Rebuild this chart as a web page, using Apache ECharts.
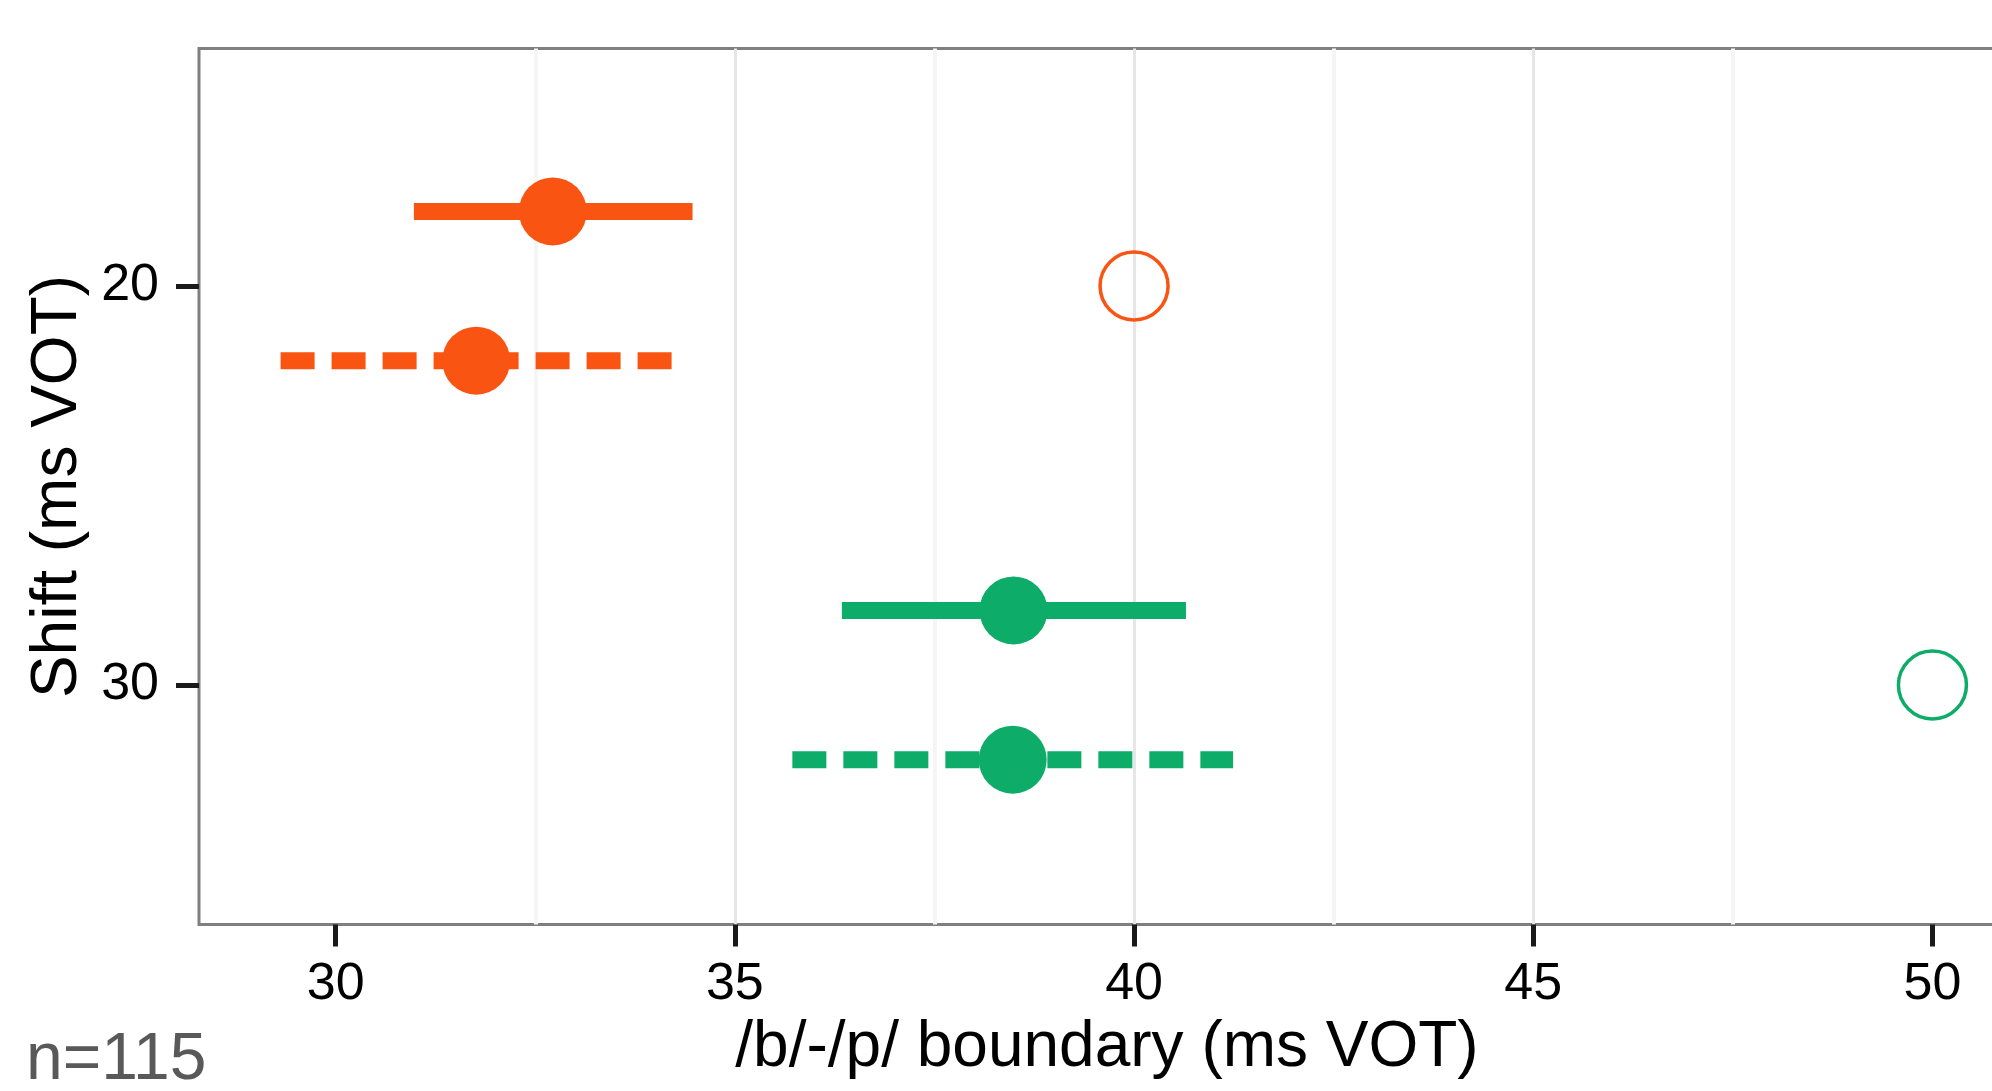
<!DOCTYPE html>
<html>
<head>
<meta charset="utf-8">
<title>/b/-/p/ boundary by shift</title>
<script src="https://cdn.jsdelivr.net/npm/echarts@6.0.0/dist/echarts.min.js"></script>
<style>
  html, body { margin: 0; padding: 0; background: #ffffff; }
  #chart { width: 1992px; height: 1091px; }
</style>
</head>
<body>
<div id="chart"></div>
<script>
// one entry per shift condition (20 ms, 30 ms)
const shifts = [20, 30]
const colors = ['#F95412', '#0DAC68']

// solid line group (drawn above the shift row)
const solidY = [18.13, 28.13]
const solidMean = [32.72, 38.49]
const solidLow = [30.98, 36.34]
const solidHigh = [34.47, 40.65]

// dashed line group (drawn below the shift row)
const dashedY = [21.87, 31.87]
const dashedMean = [31.76, 38.48]
const dashedLow = [29.31, 35.72]
const dashedHigh = [34.21, 41.24]

// open circles: the true boundary for each shift
const trueBoundary = [40, 50]

const xTicks = [30, 35, 40, 45, 50]
const yTicks = [20, 30]

const font = "'Liberation Sans', Arial, Helvetica, sans-serif"

const chart = echarts.init(document.getElementById('chart'))

const barSeries = (ys, lows, highs, dashed) => shifts.map((s, i) => ({
  type: 'line',
  silent: true,
  symbol: 'none',
  data: [[lows[i], ys[i]], [highs[i], ys[i]]],
  lineStyle: {
    color: colors[i],
    width: 17,
    cap: 'butt',
    type: dashed ? [34, 17] : 'solid'
  },
  z: 2
}))

const meanSeries = (ys, means) => ({
  type: 'scatter',
  silent: true,
  symbol: 'circle',
  symbolSize: 68,
  data: shifts.map((s, i) => ({
    value: [means[i], ys[i]],
    itemStyle: { color: colors[i], opacity: 1 }
  })),
  z: 3
})

const option = {
  animation: false,
  backgroundColor: '#ffffff',
  grid: {
    left: 199,
    top: 48.5,
    right: -23,
    bottom: 166.5,
    show: true,
    borderColor: '#7f7f7f',
    borderWidth: 3,
    backgroundColor: 'transparent',
    containLabel: false,
    outerBoundsMode: 'none'
  },
  xAxis: {
    type: 'value',
    min: 28.288,
    max: 51.034,
    minInterval: 5,
    maxInterval: 5,
    name: '/b/-/p/ boundary (ms VOT)',
    nameLocation: 'middle',
    nameGap: 92,
    nameTextStyle: { color: '#000', fontSize: 64, fontFamily: font },
    axisLine: { show: false },
    axisTick: {
      show: true,
      customValues: xTicks,
      length: 22,
      lineStyle: { color: '#1a1a1a', width: 5 }
    },
    axisLabel: {
      customValues: xTicks,
      margin: 34,
      color: '#000',
      fontSize: 52,
      fontFamily: font
    },
    splitLine: {
      show: true,
      showMinLine: false,
      showMaxLine: false,
      lineStyle: { color: '#e6e6e6', width: 3 }
    },
    minorTick: { show: false, splitNumber: 2 },
    minorSplitLine: {
      show: true,
      lineStyle: { color: '#f5f5f5', width: 4 }
    }
  },
  yAxis: {
    type: 'value',
    inverse: true,
    min: 14.048,
    max: 36,
    minInterval: 10,
    maxInterval: 10,
    name: 'Shift (ms VOT)',
    nameLocation: 'middle',
    nameGap: 98,
    nameRotate: 90,
    nameTextStyle: { color: '#000', fontSize: 64, fontFamily: font },
    axisLine: { show: false },
    axisTick: {
      show: true,
      customValues: yTicks,
      length: 23,
      lineStyle: { color: '#1a1a1a', width: 5 }
    },
    axisLabel: {
      customValues: yTicks,
      margin: 40,
      color: '#000',
      fontSize: 52,
      fontFamily: font
    },
    splitLine: {
      show: true,
      showMinLine: false,
      showMaxLine: false,
      lineStyle: { color: '#e6e6e6', width: 3 }
    }
  },
  graphic: [{
    type: 'text',
    left: 26,
    top: 1028,
    style: {
      text: 'n=115',
      fill: '#595959',
      fontSize: 66,
      fontFamily: font
    }
  }],
  series: [
    ...barSeries(solidY, solidLow, solidHigh, false),
    ...barSeries(dashedY, dashedLow, dashedHigh, true),
    meanSeries(solidY, solidMean),
    meanSeries(dashedY, dashedMean),
    {
      type: 'scatter',
      silent: true,
      symbol: 'circle',
      symbolSize: 68,
      data: shifts.map((s, i) => ({
        value: [trueBoundary[i], s],
        itemStyle: { color: 'rgba(0,0,0,0)', borderColor: colors[i], borderWidth: 3.5, opacity: 1 }
      })),
      z: 3
    }
  ]
}

chart.setOption(option)

window.addEventListener('resize', () => {
  chart && chart.resize()
})
</script>
</body>
</html>
